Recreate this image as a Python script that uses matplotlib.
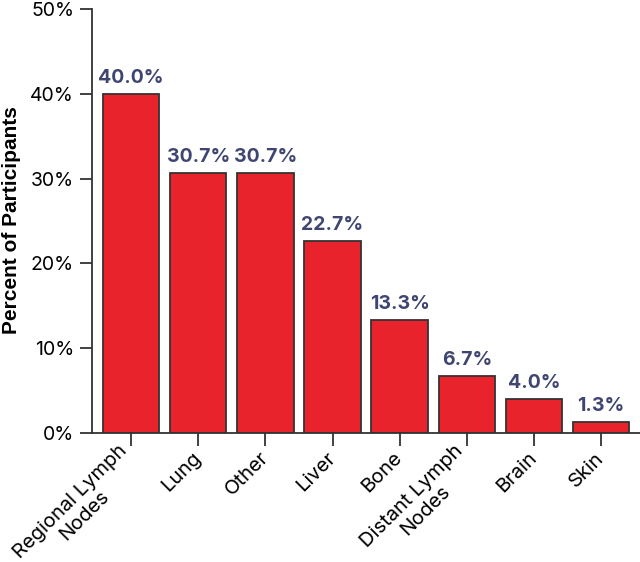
import matplotlib.pyplot as plt

sites = ['Regional Lymph\nNodes', 'Lung', 'Other', 'Liver', 'Bone',
         'Distant Lymph\nNodes', 'Brain', 'Skin']
percents = [40.0, 30.7, 30.7, 22.7, 13.3, 6.7, 4.0, 1.3]
yticks = [0, 10, 20, 30, 40, 50]

plt.rcParams['font.family'] = ['Inter', 'DejaVu Sans']

fig = plt.figure(figsize=(6.4, 5.62), dpi=100)
ax = fig.add_axes([0.144, 0.2295, 0.856, 0.7545])

x = list(range(len(sites)))
ax.bar(x, percents, width=0.84, color='#e8232c', edgecolor='#333333', linewidth=1.3, zorder=2)

for xi, v in zip(x, percents):
    ax.text(xi, v + 0.8, '{:.1f}%'.format(v), ha='center', va='bottom',
            fontsize=14, fontweight='bold', color='#3f4571')

ax.set_xlim(-0.58, 7.58)
ax.set_ylim(0, 50)
ax.set_yticks(yticks)
ax.set_yticklabels(['{}%'.format(t) for t in yticks], fontsize=14)
ax.set_xticks(x)
ax.set_xticklabels(sites, fontsize=14.5, rotation=45, ha='right', va='center',
                   rotation_mode='anchor', multialignment='center',
                   linespacing=1.1)
ax.tick_params(axis='both', direction='out', length=9, width=1.3, color='#333333')
ax.tick_params(axis='x', pad=7)
ax.tick_params(axis='y', pad=4)

for side in ['top', 'right']:
    ax.spines[side].set_visible(False)
for side in ['left', 'bottom']:
    ax.spines[side].set_linewidth(1.3)
    ax.spines[side].set_color('#333333')

ax.set_ylabel('Percent of Participants', fontsize=15, fontweight='bold',
              family=['Liberation Sans', 'DejaVu Sans'])
ax.yaxis.set_label_coords(-0.13, 0.502)

fig.savefig('out.png', dpi=100)
